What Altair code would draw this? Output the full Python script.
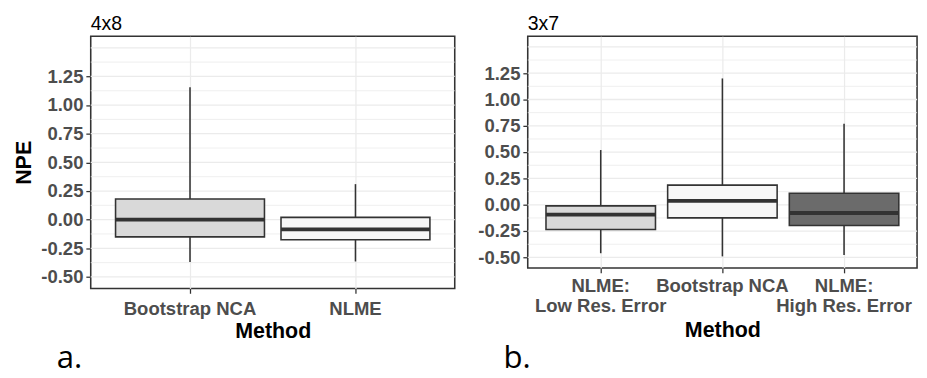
import altair as alt
import pandas as pd

# ---- data ----
cats_a = ["Bootstrap NCA", "NLME"]
lo_a = [-0.37, -0.365]
q1_a = [-0.15, -0.175]
med_a = [0.0, -0.085]
q3_a = [0.18, 0.02]
hi_a = [1.155, 0.31]
fills_a = ["#d9d9d9", "#f7f7f7"]

cats_b = ["NLME: Low Res. Error", "Bootstrap NCA", "NLME: High Res. Error"]
lo_b = [-0.46, -0.49, -0.477]
q1_b = [-0.234, -0.124, -0.196]
med_b = [-0.093, 0.037, -0.078]
q3_b = [-0.01, 0.187, 0.11]
hi_b = [0.52, 1.2, 0.77]
fills_b = ["#d9d9d9", "#f7f7f7", "#6b6b6b"]

y_ticks = [-0.5, -0.25, 0.0, 0.25, 0.5, 0.75, 1.0, 1.25]
grid_major = [-0.5, -0.25, 0.0, 0.25, 0.5, 0.75, 1.0, 1.25, 1.5]
grid_minor = [-0.375, -0.125, 0.125, 0.375, 0.625, 0.875, 1.125, 1.375]
y_domain = [-0.6, 1.6]

FONT = "Liberation Sans"
DARK = "#333333"


def panel(cats, lo, q1, med, q3, hi, fills, w, h, title, tag, tag_dx, ytitle, lpad, tpad):
    df = pd.DataFrame({"Method": cats, "lo": lo, "q1": q1, "med": med, "q3": q3, "hi": hi})
    yscale = alt.Scale(domain=y_domain, nice=False, zero=False)
    xaxis = alt.Axis(
        title="Method",
        labelAngle=0,
        labelFont=FONT,
        labelFontSize=19,
        labelFontWeight="bold",
        labelColor="#4d4d4d",
        labelLineHeight=21,
        labelPadding=lpad,
        labelOverlap=False,
        labelExpr="indexof(datum.label, ': ') > 0 ? [substring(datum.label, 0, indexof(datum.label, ': ') + 1), substring(datum.label, indexof(datum.label, ': ') + 2)] : datum.label",
        tickSize=5,
        tickColor=DARK,
        tickWidth=1.3,
        grid=True,
        gridColor="#ebebeb",
        gridWidth=1.3,
        bandPosition=0.5,
        domain=False,
        titleFont=FONT,
        titleFontSize=22,
        titleFontWeight="bold",
        titleColor="black",
        titlePadding=tpad,
    )
    x = alt.X("Method:N", sort=cats, scale=alt.Scale(paddingInner=0, paddingOuter=0.1), axis=xaxis)
    yaxis = alt.Axis(
        values=y_ticks,
        labelExpr="(datum.value < 0 ? '-' : '') + format(abs(datum.value), '.2f')",
        labelOverlap=False,
        grid=False,
        labelFont=FONT,
        labelFontSize=19,
        labelFontWeight="bold",
        labelColor="#4d4d4d",
        labelPadding=3,
        tickSize=5,
        tickColor=DARK,
        tickWidth=1.3,
        domain=False,
        title=ytitle,
        titleFont=FONT,
        titleFontSize=22,
        titleFontWeight="bold",
        titleColor="black",
        titlePadding=6,
    )
    step = w / (len(cats) + 0.2)

    def Y(field):
        return alt.Y(field, scale=yscale, axis=yaxis)

    gmin = alt.Chart(pd.DataFrame({"g": grid_minor})).mark_rule(color="#ebebeb", strokeWidth=0.8).encode(
        y=Y("g:Q")
    )
    gmaj = alt.Chart(pd.DataFrame({"g": grid_major})).mark_rule(color="#ebebeb", strokeWidth=1.3).encode(
        y=Y("g:Q")
    )
    base = alt.Chart(df)
    whisk = base.mark_rule(color=DARK, strokeWidth=1.6, opacity=1).encode(
        x=x, y=Y("lo:Q"), y2="hi:Q"
    )
    box = base.mark_bar(width=alt.RelativeBandSize(0.9), stroke=DARK, strokeWidth=1.6, opacity=1).encode(
        x=x,
        y=Y("q1:Q"),
        y2="q3:Q",
        fill=alt.Fill("Method:N", scale=alt.Scale(domain=cats, range=fills), legend=None),
    )
    medt = base.mark_tick(color=DARK, thickness=4, size=0.9 * step, opacity=1).encode(
        x=x, y=Y("med:Q")
    )
    lab = alt.Chart(pd.DataFrame({"tag": [tag]})).mark_text(
        align="left", baseline="alphabetic", font="Open Sans", fontSize=32, color="black"
    ).encode(x=alt.value(tag_dx), y=alt.value(341), text="tag:N")

    return alt.layer(gmin, gmaj, whisk, box, medt, lab).properties(
        width=w,
        height=h,
        view=alt.ViewBackground(stroke=DARK, strokeWidth=1.6, fill="white"),
        title=alt.TitleParams(
            title, anchor="start", frame="group", font=FONT, fontSize=20, fontWeight="normal",
            color="black", offset=3
        ),
    )


pa = panel(cats_a, lo_a, q1_a, med_a, q3_a, hi_a, fills_a, 374, 259, "4x8", "a.", -35, "NPE", 7, 2)
pb = panel(cats_b, lo_b, q1_b, med_b, q3_b, hi_b, fills_b, 400, 238, "3x7", "b.", -25, None, 4, 4)

chart = (
    alt.hconcat(pa, pb, spacing=20)
    .resolve_scale(fill="independent", x="independent")
    .properties(padding={"left": 3, "top": 0, "right": 0, "bottom": 0})
    .configure_view(stroke=DARK, strokeWidth=1.6)
    .configure_axisY(labelOverlap=False)
    .configure(background="white")
)

chart.save("out.html", embed_options={"renderer": "svg", "actions": False})
